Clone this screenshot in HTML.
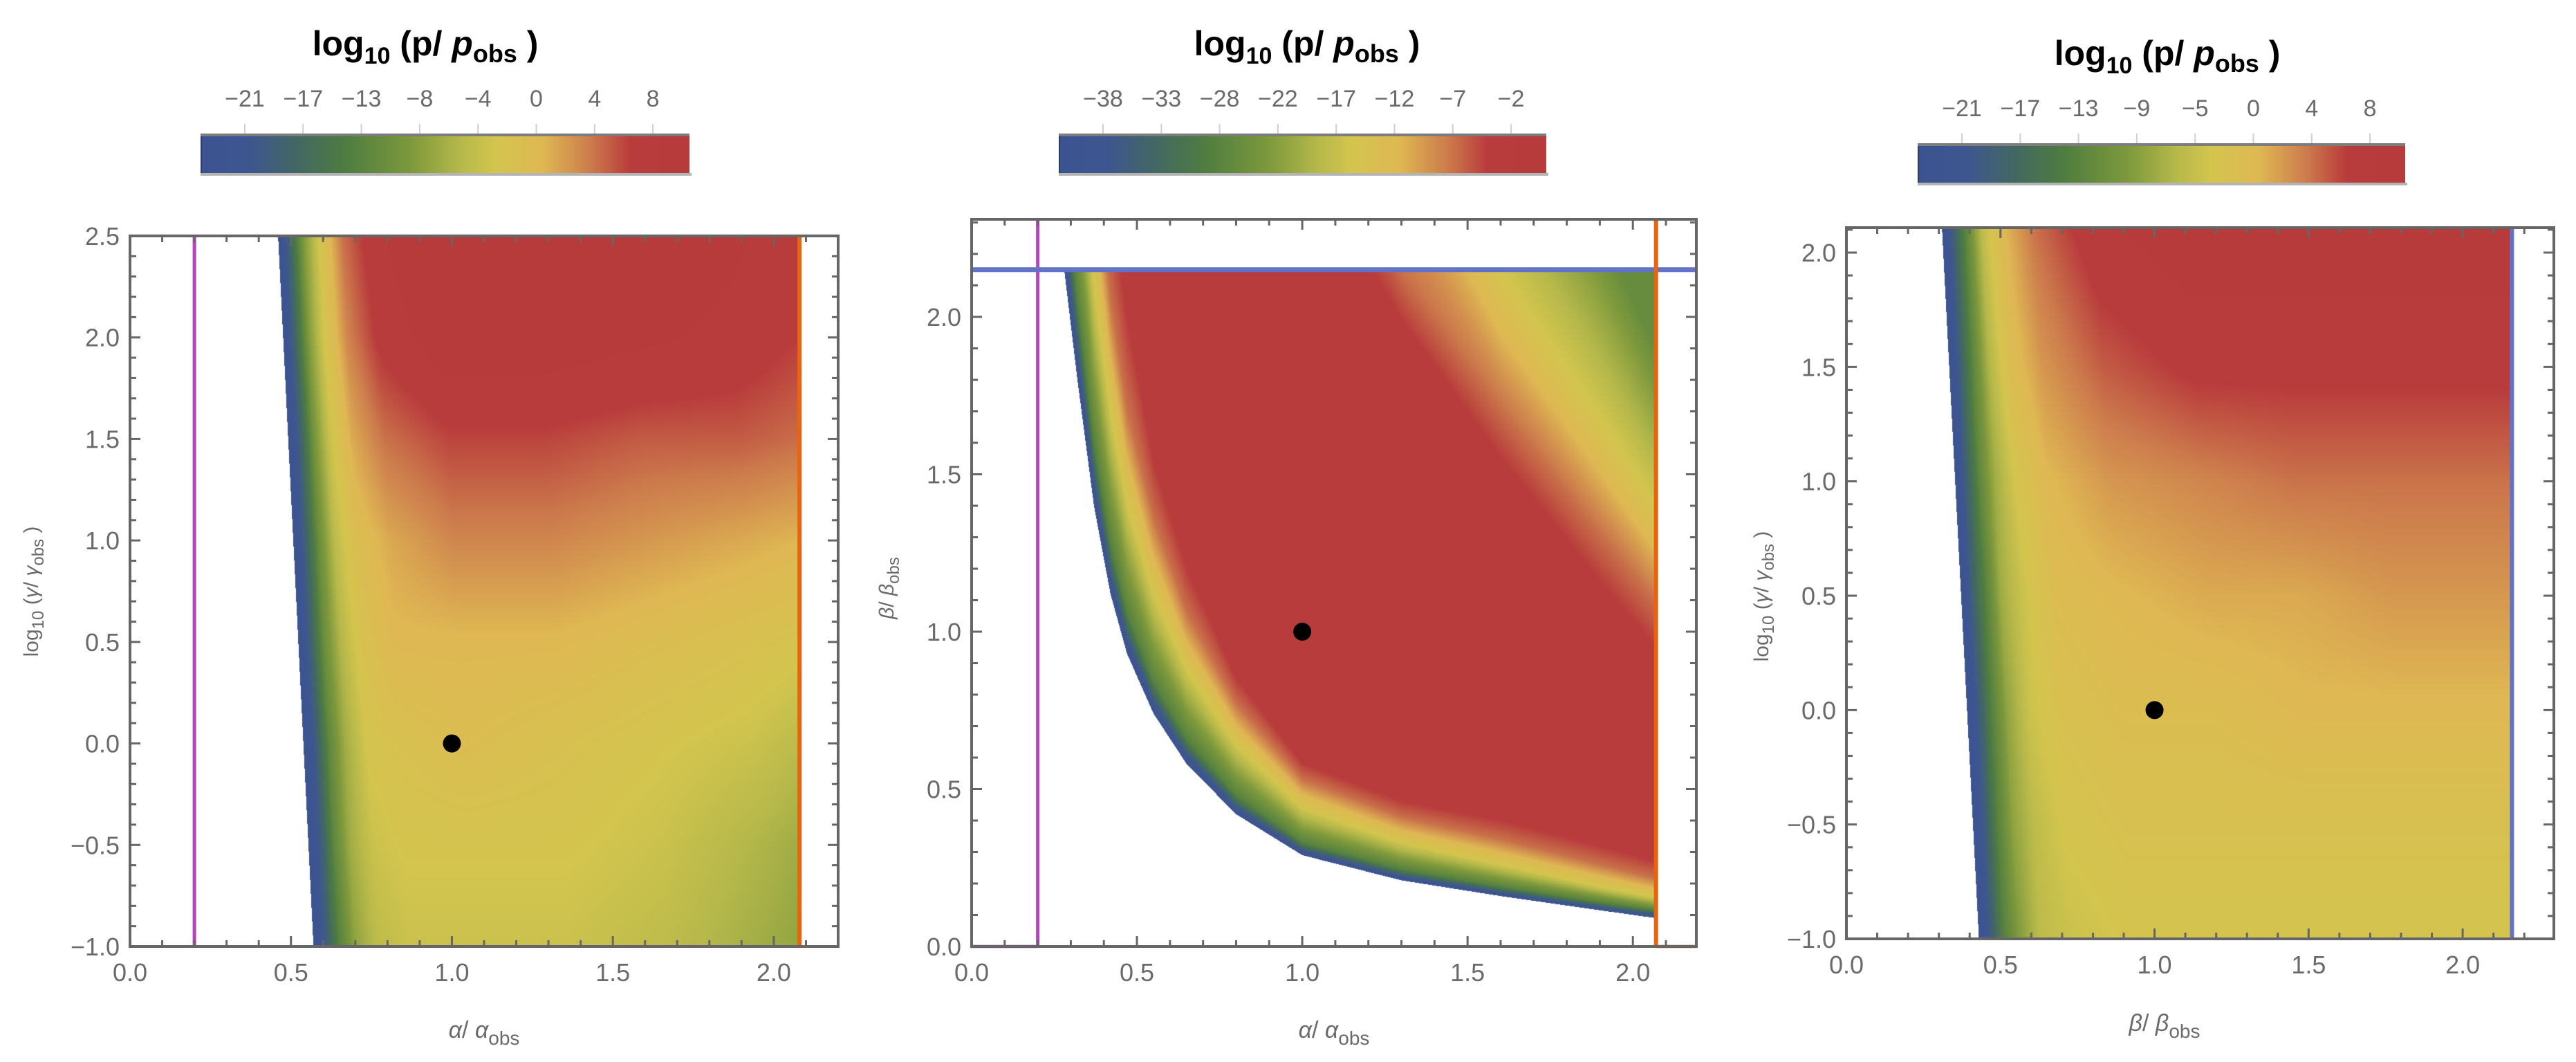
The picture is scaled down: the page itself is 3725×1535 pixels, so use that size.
<!DOCTYPE html>
<html><head><meta charset="utf-8"><style>
html,body{margin:0;padding:0;background:#fff;}
body{width:3725px;height:1535px;position:relative;overflow:hidden;font-family:"Liberation Sans",sans-serif;}
canvas{position:absolute;}
svg{position:absolute;left:0;top:0;}
</style></head><body>
<canvas id="c1"></canvas>
<canvas id="c2"></canvas>
<canvas id="c3"></canvas>
<canvas id="cb1"></canvas>
<canvas id="cb2"></canvas>
<canvas id="cb3"></canvas>
<svg id="s" width="3725" height="1535" xmlns="http://www.w3.org/2000/svg" font-family="Liberation Sans, sans-serif">
<g font-size="50" font-weight="bold" fill="#000" text-anchor="middle">
<text x="615" y="80">log<tspan dy="12" font-size="34">10</tspan><tspan dy="-12"> (p/ </tspan><tspan font-style="italic">p</tspan><tspan dy="10" font-size="36">obs</tspan><tspan dy="-10"> )</tspan></text>
<text x="1890" y="80">log<tspan dy="12" font-size="34">10</tspan><tspan dy="-12"> (p/ </tspan><tspan font-style="italic">p</tspan><tspan dy="10" font-size="36">obs</tspan><tspan dy="-10"> )</tspan></text>
<text x="3134" y="94">log<tspan dy="12" font-size="34">10</tspan><tspan dy="-12"> (p/ </tspan><tspan font-style="italic">p</tspan><tspan dy="10" font-size="36">obs</tspan><tspan dy="-10"> )</tspan></text>
</g>
<g font-size="34" fill="#6a6a6a" text-anchor="middle">
<text x="700" y="1500"><tspan font-style="italic">α</tspan>/ <tspan font-style="italic">α</tspan><tspan dy="10" font-size="28">obs</tspan></text>
<text x="1929" y="1500"><tspan font-style="italic">α</tspan>/ <tspan font-style="italic">α</tspan><tspan dy="10" font-size="28">obs</tspan></text>
<text x="3130" y="1490"><tspan font-style="italic">β</tspan>/ <tspan font-style="italic">β</tspan><tspan dy="10" font-size="28">obs</tspan></text>
<text transform="translate(55,855) rotate(-90)" font-size="30">log<tspan dy="8" font-size="24">10</tspan><tspan dy="-8"> (</tspan><tspan font-style="italic">γ</tspan>/ <tspan font-style="italic">γ</tspan><tspan dy="8" font-size="24">obs</tspan><tspan dy="-8"> )</tspan></text>
<text transform="translate(1292,850) rotate(-90)" font-size="30"><tspan font-style="italic">β</tspan>/ <tspan font-style="italic">β</tspan><tspan dy="8" font-size="24">obs</tspan></text>
<text transform="translate(2557,862) rotate(-90)" font-size="30">log<tspan dy="8" font-size="24">10</tspan><tspan dy="-8"> (</tspan><tspan font-style="italic">γ</tspan>/ <tspan font-style="italic">γ</tspan><tspan dy="8" font-size="24">obs</tspan><tspan dy="-8"> )</tspan></text>
</g>
<g id="ov"></g>
</svg>
<script>
// ---------- colorbar data ----------
const cb1Labels = ["−21","−17","−13","−8","−4","0","4","8"];
const cb2Labels = ["−38","−33","−28","−22","−17","−12","−7","−2"];
const cb3Labels = ["−21","−17","−13","−9","−5","0","4","8"];
const range1 = [-24.1, 10.6];
const range2 = [-41.9, 1.2];
const range3 = [-24.1, 10.6];

// ---------- panel 1 (alpha vs log gamma) ----------
const p1BoundY = [2.5, -1.0];
const p1BoundX = [0.46, 0.57];
const p1Dx = [0,0.04,0.08,0.13,0.2,0.3,0.5,0.8,1.1,1.4,1.65];
const p1Ys = [2.5,2.0,1.5,1.0,0.5,0.0,-0.5,-1.0];
const p1Vals = [
 [-25,-17,-9,-3,4,8,11,11,10,9,7],
 [-25,-17,-9,-3,3,7,10,10,9,8,6],
 [-25,-18,-10,-4,1,4,6,6,5,5,4],
 [-25,-18,-11,-5,-1,1,3,3,2,1,0],
 [-25,-18,-11,-6,-2,0,0,0,-1,-2,-3],
 [-25,-19,-12,-7,-3,-2,-1,-2,-3,-4,-6],
 [-25,-19,-12,-7,-4,-3,-3,-3,-4,-6,-8],
 [-25,-19,-13,-8,-5,-4,-4,-4,-5,-7,-9]
];
const p1Xmax = 2.08;
const p1Point = [1.0, 0.0];

// ---------- panel 2 (alpha vs beta) ----------
const p2Cols = [0.28,0.32,0.37,0.42,0.47,0.55,0.65,0.8,1.0,1.3,1.6,1.9,2.07];
const p2Levels = [-42,-28,-16,-7,-3,-3,-7,-16,-26];
const p2Knots = [
 [2.15,2.45,3.2,3.9,4.9,6,7,8,9],
 [1.8,2.05,2.7,3.3,4.0,6,7,8,9],
 [1.4,1.6,2.1,2.55,3.1,6,7,8,9],
 [1.12,1.28,1.7,2.05,2.5,6,7,8,9],
 [0.93,1.06,1.41,1.7,2.1,5,6,7,8],
 [0.74,0.84,1.12,1.36,1.6,4.2,5,6,7],
 [0.58,0.66,0.88,1.06,1.25,3.6,4.3,5.2,6.5],
 [0.42,0.48,0.64,0.77,0.88,3.0,3.6,4.5,6],
 [0.29,0.33,0.44,0.53,0.60,2.4,2.9,3.8,5],
 [0.21,0.245,0.33,0.41,0.48,1.94,2.15,2.9,4],
 [0.16,0.19,0.26,0.34,0.42,1.5,1.72,2.15,2.9],
 [0.115,0.14,0.19,0.26,0.34,1.11,1.32,1.68,2.3],
 [0.09,0.115,0.155,0.215,0.29,0.9,1.1,1.4,1.9]
];
const p2Ymax = 2.15;
const p2Point = [1.0, 1.0];

// ---------- panel 3 (beta vs log gamma) ----------
const p3BoundY = [2.11, -1.0];
const p3BoundX = [0.31, 0.43];
const p3Dx = [0,0.04,0.08,0.13,0.2,0.3,0.5,0.8,1.1,1.4,1.9];
const p3Ys = [2.11,1.5,1.0,0.5,0.0,-0.5,-1.0];
const p3Vals = [
 [-25,-18,-12,-5,0,4,8,10,10,10,10],
 [-25,-18,-12,-6,-1,2,5,7,7,7,7],
 [-25,-18,-12,-7,-3,0,2,3,4,4,4],
 [-25,-18,-13,-7,-4,-1,0,1,1,2,2],
 [-25,-19,-13,-8,-4,-2,-1,-1,0,0,0],
 [-25,-19,-13,-8,-5,-3,-2,-2,-2,-2,-2],
 [-25,-19,-13,-9,-5,-4,-3,-3,-3,-3,-3]
];
const p3Xmax = 2.16;
const p3Point = [1.0, 0.0];

// ---------- tick data ----------
const xTickVals = [0,0.5,1.0,1.5,2.0];
const xTickLabels = ["0.0","0.5","1.0","1.5","2.0"];
const y1TickVals = [-1,-0.5,0,0.5,1,1.5,2,2.5];
const y1TickLabels = ["−1.0","−0.5","0.0","0.5","1.0","1.5","2.0","2.5"];
const y2TickVals = [0,0.5,1,1.5,2];
const y2TickLabels = ["0.0","0.5","1.0","1.5","2.0"];
const y3TickVals = [-1,-0.5,0,0.5,1,1.5,2];
const y3TickLabels = ["−1.0","−0.5","0.0","0.5","1.0","1.5","2.0"];

// ---------- geometry ----------
const P1 = {L:188,R:1212,T:341,B:1368,x0:0,x1:2.2,y0:-1,y1:2.5};
const P2 = {L:1405,R:2453,T:317,B:1368,x0:0,x1:2.192,y0:0,y1:2.31};
const P3 = {L:2670,R:3693,T:329,B:1357,x0:0,x1:2.296,y0:-1,y1:2.109};
const CB1 = {L:290,R:997,T:197,B:250,labY:154};
const CB2 = {L:1531,R:2236,T:197,B:250,labY:154};
const CB3 = {L:2773,R:3478,T:211,B:264,labY:168};

function sx(P,v){return P.L+(v-P.x0)/(P.x1-P.x0)*(P.R-P.L);}
function sy(P,v){return P.B-(v-P.y0)/(P.y1-P.y0)*(P.B-P.T);}

const stops=[[0,[59,83,144]],[0.1,[62,86,144]],[0.2,[67,104,98]],[0.3,[79,125,64]],[0.43,[125,153,60]],[0.53,[181,184,74]],[0.6,[211,197,78]],[0.7,[223,184,83]],[0.8,[204,122,76]],[0.88,[185,60,60]],[1,[184,59,59]]];
function cmap(t){
  if(t<=0)return stops[0][1]; if(t>=1)return stops[stops.length-1][1];
  for(let i=0;i<stops.length-1;i++){const a=stops[i],b=stops[i+1];
    if(t>=a[0]&&t<=b[0]){const f=(t-a[0])/(b[0]-a[0]);return [0,1,2].map(k=>a[1][k]+(b[1][k]-a[1][k])*f);}}
  return stops[0][1];
}
function locate(arr,v){
  const n=arr.length, asc=arr[n-1]>arr[0];
  if(asc){ if(v<=arr[0])return [0,0]; if(v>=arr[n-1])return [n-2,1];
    for(let i=0;i<n-1;i++) if(v<=arr[i+1]) return [i,(v-arr[i])/(arr[i+1]-arr[i])]; }
  else { if(v>=arr[0])return [0,0]; if(v<=arr[n-1])return [n-2,1];
    for(let i=0;i<n-1;i++) if(v>=arr[i+1]) return [i,(v-arr[i])/(arr[i+1]-arr[i])]; }
  return [n-2,1];
}
function lerp(a,b,f){return a+(b-a)*f;}

function setupCanvas(id,P){
  const c=document.getElementById(id);
  c.width=P.R-P.L; c.height=P.B-P.T;
  c.style.left=P.L+'px'; c.style.top=P.T+'px';
  return c;
}
function paint(c,P,range,fn){
  const ctx=c.getContext('2d'), W=c.width, H=c.height;
  const img=ctx.createImageData(W,H), d=img.data;
  for(let j=0;j<H;j++){
    const y=P.y1-(j+0.5)/H*(P.y1-P.y0);
    for(let i=0;i<W;i++){
      const x=P.x0+(i+0.5)/W*(P.x1-P.x0);
      const v=fn(x,y);
      const k=(j*W+i)*4;
      if(v===null){d[k+3]=0;continue;}
      const col=cmap((v-range[0])/(range[1]-range[0]));
      d[k]=col[0];d[k+1]=col[1];d[k+2]=col[2];d[k+3]=255;
    }
  }
  ctx.putImageData(img,0,0);
}
function gridField(bY,bX,dxs,ys,vals,xmax){
  return function(x,y){
    if(x>xmax)return null;
    const [bi,bf]=locate(bY,y);
    const b=lerp(bX[bi],bX[bi+1],bf);
    const dx=x-b; if(dx<0)return null;
    const [ri,rf]=locate(ys,y);
    const [ci,cf]=locate(dxs,dx);
    const a=lerp(vals[ri][ci],vals[ri][ci+1],cf);
    const c=lerp(vals[ri+1][ci],vals[ri+1][ci+1],cf);
    return lerp(a,c,rf);
  };
}
function field2(x,y){
  if(x<p2Cols[0]||x>p2Cols[p2Cols.length-1]||y>p2Ymax)return null;
  const [ci,cf]=locate(p2Cols,x);
  const k=p2Knots[ci].map((v,m)=>lerp(v,p2Knots[ci+1][m],cf));
  if(y<k[0])return null;
  if(y>=k[k.length-1])return p2Levels[p2Levels.length-1];
  for(let m=0;m<k.length-1;m++){ if(y<=k[m+1]){const f=(y-k[m])/(k[m+1]-k[m]);return lerp(p2Levels[m],p2Levels[m+1],f);} }
  return p2Levels[p2Levels.length-1];
}
paint(setupCanvas('c1',P1),P1,range1,gridField(p1BoundY,p1BoundX,p1Dx,p1Ys,p1Vals,p1Xmax));
paint(setupCanvas('c2',P2),P2,range2,field2);
paint(setupCanvas('c3',P3),P3,range3,gridField(p3BoundY,p3BoundX,p3Dx,p3Ys,p3Vals,p3Xmax));

function drawCB(id,C){
  const c=document.getElementById(id); c.width=C.R-C.L; c.height=C.B-C.T;
  c.style.left=C.L+'px'; c.style.top=C.T+'px';
  const ctx=c.getContext('2d');
  for(let i=0;i<c.width;i++){const col=cmap(i/(c.width-1));ctx.fillStyle=`rgb(${col.map(Math.round).join(',')})`;ctx.fillRect(i,0,1,c.height);}
  ctx.fillStyle='#2a3a70';ctx.fillRect(0,0,2,c.height);
}
drawCB('cb1',CB1);drawCB('cb2',CB2);drawCB('cb3',CB3);

const NS='http://www.w3.org/2000/svg';
const ov=document.getElementById('ov');
function mk(tag,attrs){const e=document.createElementNS(NS,tag);for(const k in attrs)e.setAttribute(k,attrs[k]);ov.appendChild(e);return e;}

function cbDecor(C,labels,nm){
  let e=mk('rect',{x:C.L,y:C.T-4,width:C.R-C.L,height:4,fill:'#7d7d7d'});
  
  
  e=mk('rect',{x:C.L,y:C.B,width:C.R-C.L+3,height:4,fill:'#b4b4b4'});
  
  
  labels.forEach((lab,i)=>{
    const x=C.L+64+i*84.3;
    const t=mk('line',{x1:x,x2:x,y1:C.T-18,y2:C.T-4,stroke:'#cfcfcf','stroke-width':2});
    
    
    const tx=mk('text',{x:x,y:C.labY,'font-size':34,fill:'#6a6a6a','text-anchor':'middle'});
    tx.textContent=lab;
    
    
  });
}
cbDecor(CB1,cb1Labels,'colorbar-1');cbDecor(CB2,cb2Labels,'colorbar-2');cbDecor(CB3,cb3Labels,'colorbar-3');

function line(P,x1,y1,x2,y2,col,w,nm){
  const e=mk('line',{x1:sx(P,x1),y1:sy(P,y1),x2:sx(P,x2),y2:sy(P,y2),stroke:col,'stroke-width':w});
  
  
}
line(P1,0.2,P1.y0,0.2,P1.y1,'#b247bc',5,'purple-limit-line');
line(P1,p1Xmax,P1.y0,p1Xmax,P1.y1,'#e8640f',6,'orange-limit-line');
line(P2,0,0,0.2,0,'#d7a0dc',5,'purple-base-line');
line(P2,0.2,0,0.2,P2.y1,'#b247bc',5,'purple-limit-line');
line(P2,0,p2Ymax,P2.x1,p2Ymax,'#6272c8',7,'blue-limit-line');
line(P2,2.07,0,P2.x1,0,'#f1a77c',5,'orange-base-line');
line(P2,2.07,0,2.07,P2.y1,'#e8640f',6,'orange-limit-line');
line(P3,p3Xmax,P3.y0,p3Xmax,P3.y1,'#6272c8',6,'blue-limit-line');

[[P1,p1Point],[P2,p2Point],[P3,p3Point]].forEach(([P,pt])=>{
  const c=mk('circle',{cx:sx(P,pt[0]),cy:sy(P,pt[1]),r:13,fill:'#000'});
  
  
});

function axes(P,yVals,yLabs,nm){
  const f=mk('rect',{x:P.L,y:P.T,width:P.R-P.L,height:P.B-P.T,fill:'none',stroke:'#666','stroke-width':4});
  
  
  for(let k=0;k*0.1<=P.x1+1e-9;k++){
    const v=k*0.1, maj=(k%5===0), len=maj?15:9, x=sx(P,v);
    const a=mk('line',{x1:x,x2:x,y1:P.B,y2:P.B-len,stroke:'#666','stroke-width':3});
    
    
    const b=mk('line',{x1:x,x2:x,y1:P.T,y2:P.T+len,stroke:'#666','stroke-width':3});
    
    
  }
  const yStart=Math.ceil(P.y0*10-1e-9);
  for(let k=yStart;k*0.1<=P.y1+1e-9;k++){
    const v=k*0.1, maj=(k%5===0), len=maj?15:9, y=sy(P,v);
    const a=mk('line',{x1:P.L,x2:P.L+len,y1:y,y2:y,stroke:'#666','stroke-width':3});
    
    
    const b=mk('line',{x1:P.R,x2:P.R-len,y1:y,y2:y,stroke:'#666','stroke-width':3});
    
    
  }
  xTickVals.forEach((v,i)=>{
    const t=mk('text',{x:sx(P,v),y:P.B+50,'font-size':36,fill:'#6a6a6a','text-anchor':'middle'});
    t.textContent=xTickLabels[i];
    
    
  });
  yVals.forEach((v,i)=>{
    const t=mk('text',{x:P.L-15,y:sy(P,v)+13,'font-size':36,fill:'#6a6a6a','text-anchor':'end'});
    t.textContent=yLabs[i];
    
    
  });
}
axes(P1,y1TickVals,y1TickLabels,'panel-1');
axes(P2,y2TickVals,y2TickLabels,'panel-2');
axes(P3,y3TickVals,y3TickLabels,'panel-3');
</script>
</body></html>
